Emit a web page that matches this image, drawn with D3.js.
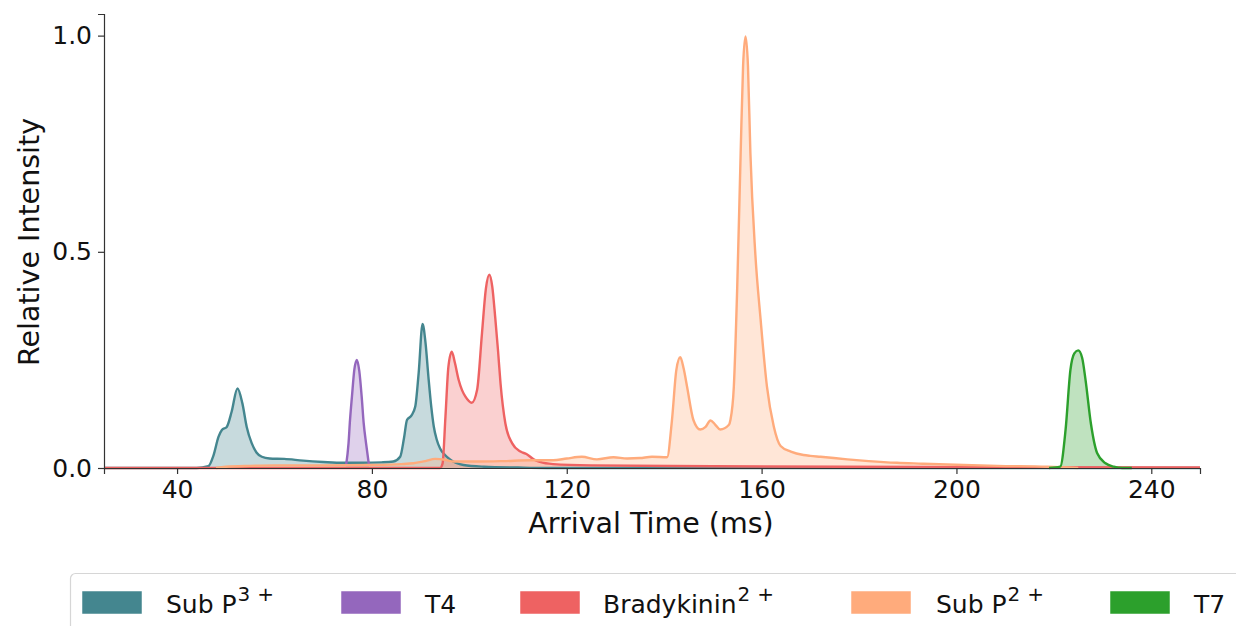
<!DOCTYPE html>
<html>
<head>
<meta charset="utf-8">
<script src="https://cdn.jsdelivr.net/npm/d3@7"></script>
<style>
  body { margin: 0; background: #fff; }
  svg { display: block; font-family: "DejaVu Sans", sans-serif; }
</style>
</head>
<body>
<svg id="chart" width="1236" height="626"></svg>
<script>
// ---- Data (arrival time in ms, relative intensity) ----
const seriesNames = ["Sub P3+", "T4", "Bradykinin2+", "Sub P2+", "T7"];
const seriesColors = ["#44868f", "#9467bd", "#ee6262", "#ffab7c", "#2ca02c"];

const subP3Time = [25, 44, 46.4, 47.5, 48.5, 49.2, 50.2, 51.2, 52.4, 53.4, 54.3, 55.3, 56.3, 57.4, 59, 62, 65.9, 70, 74.1, 78, 82, 84.4, 85.8, 86.6, 87.2, 88.1, 88.9, 89.6, 90.4, 91.0, 91.6, 92.2, 92.7, 93.3, 94.0, 95.0, 96.1, 98.8, 103, 110, 116, 250];
const subP3Vals = [0, 0, 0.004, 0.03, 0.072, 0.088, 0.095, 0.13, 0.184, 0.15, 0.095, 0.058, 0.036, 0.026, 0.022, 0.021, 0.017, 0.014, 0.012, 0.012, 0.013, 0.015, 0.026, 0.07, 0.111, 0.121, 0.142, 0.22, 0.333, 0.29, 0.211, 0.14, 0.096, 0.066, 0.045, 0.03, 0.019, 0.007, 0.003, 0.001, 0, 0];

const t4Time = [74.7, 75.2, 75.5, 75.9, 76.4, 76.9, 77.4, 77.9, 78.3, 78.8, 79.4];
const t4Vals = [0.006, 0.057, 0.11, 0.165, 0.228, 0.25, 0.225, 0.165, 0.105, 0.057, 0.006];

const bradyTime = [25, 60, 94.0, 94.5, 95.1, 95.7, 96.4, 97.0, 97.8, 98.5, 99.2, 100.5, 101.6, 102.6, 103.4, 104.1, 104.7, 105.3, 105.9, 106.4, 107.4, 108.8, 110.5, 111.8, 113.2, 114.5, 117.2, 125, 150, 200, 250];
const bradyVals = [0, 0, 0, 0.01, 0.119, 0.234, 0.269, 0.245, 0.204, 0.18, 0.165, 0.151, 0.181, 0.312, 0.415, 0.447, 0.42, 0.35, 0.27, 0.196, 0.103, 0.057, 0.038, 0.032, 0.02, 0.014, 0.009, 0.006, 0.004, 0.002, 0.001];

const subP2Time = [48, 50, 55, 60, 70, 80, 86, 88.5, 91, 93, 95, 96.7, 99, 102.2, 107, 112.5, 117.2, 120, 123.1, 126.2, 129.6, 132.4, 135, 137.5, 140.6, 141.6, 142.5, 143.3, 144.0, 144.7, 146.0, 147.4, 148.5, 149.5, 150.5, 151.5, 153.3, 153.6, 154.3, 155.0, 155.7, 156.2, 156.7, 157.2, 157.7, 158.7, 159.8, 161.1, 162.5, 163.9, 166.0, 168.6, 170, 172.1, 177.6, 182, 187.8, 193, 198.1, 208.4, 218.7, 225];
const subP2Vals = [0, 0.003, 0.005, 0.006, 0.006, 0.007, 0.009, 0.011, 0.016, 0.021, 0.019, 0.015, 0.015, 0.015, 0.016, 0.018, 0.018, 0.022, 0.026, 0.02, 0.025, 0.022, 0.023, 0.026, 0.025, 0.111, 0.227, 0.256, 0.23, 0.188, 0.111, 0.089, 0.095, 0.11, 0.1, 0.089, 0.1, 0.111, 0.188, 0.42, 0.728, 0.93, 0.998, 0.93, 0.728, 0.497, 0.343, 0.188, 0.096, 0.051, 0.038, 0.03, 0.028, 0.026, 0.02, 0.016, 0.012, 0.01, 0.008, 0.005, 0.003, 0];

const t7Time = [219, 221.3, 222.4, 223.4, 224.2, 225.0, 225.8, 226.5, 227.6, 228.9, 230.6, 232.3, 234, 236];
const t7Vals = [0, 0.003, 0.088, 0.227, 0.265, 0.272, 0.255, 0.204, 0.103, 0.034, 0.011, 0.003, 0, 0];

const xTicks = [40, 80, 120, 160, 200, 240];
const yTicks = [0.0, 0.5, 1.0];

// ---- Build series ----
const raw = [
  [subP3Time, subP3Vals], [t4Time, t4Vals], [bradyTime, bradyVals],
  [subP2Time, subP2Vals], [t7Time, t7Vals]
];
const series = raw.map((r, i) => ({
  name: seriesNames[i], color: seriesColors[i],
  pts: r[0].map((t, j) => ({ t: t, v: r[1][j] }))
}));

// ---- Layout ----
const svg = d3.select("#chart");
const m = { left: 104, top: 14, right: 36, bottom: 158 };
const W = 1236 - m.left - m.right, H = 626 - m.top - m.bottom;
const g = svg.append("g").attr("transform", `translate(${m.left},${m.top})`);

const x = d3.scaleLinear().domain([25, 250]).range([0, W]);
const y = d3.scaleLinear().domain([0, 1.05]).range([H, 0]);

const area = d3.area().x(d => x(d.t)).y0(y(0)).y1(d => y(d.v)).curve(d3.curveMonotoneX);
const line = d3.line().x(d => x(d.t)).y(d => y(d.v)).curve(d3.curveMonotoneX);

const drawOrder = [0, 1, 2, 3, 4];
drawOrder.forEach(i => {
  const s = series[i];
  g.append("path").datum(s.pts).attr("d", area)
    .attr("fill", s.color).attr("fill-opacity", 0.3).attr("stroke", "none");
});
drawOrder.forEach(i => {
  const s = series[i];
  g.append("path").datum(s.pts).attr("d", line)
    .attr("fill", "none").attr("stroke", s.color).attr("stroke-width", 2.4)
    .attr("stroke-linejoin", "round");
});

// ---- Axes ----
const xAxis = g.append("g").attr("transform", `translate(0,${H})`)
  .call(d3.axisBottom(x).tickValues(xTicks).tickFormat(d3.format("d")).tickSize(6).tickPadding(6));
const yAxis = g.append("g")
  .call(d3.axisLeft(y).tickValues(yTicks).tickFormat(d3.format(".1f")).tickSize(6).tickPadding(6));
[xAxis, yAxis].forEach(a => {
  a.selectAll("path.domain").attr("stroke", "#333").attr("stroke-width", 1.2);
  a.selectAll(".tick line").attr("stroke", "#333").attr("stroke-width", 1.2);
  a.selectAll(".tick text").attr("font-size", 25).attr("fill", "#111")
    .attr("font-family", "DejaVu Sans, sans-serif");
});

// Axis labels
svg.append("text").attr("x", 651).attr("y", 533)
  .attr("text-anchor", "middle").attr("font-size", 28.5).attr("fill", "#111")
  .text("Arrival Time (ms)");
svg.append("text").attr("transform", `translate(39,242) rotate(-90)`)
  .attr("text-anchor", "middle").attr("font-size", 28.5).attr("fill", "#111")
  .text("Relative Intensity");

// ---- Legend ----
const lg = svg.append("g");
lg.append("rect").attr("x", 70.5).attr("y", 573.5).attr("width", 1200).attr("height", 80)
  .attr("rx", 5).attr("fill", "#fff").attr("stroke", "#d6d6d6").attr("stroke-width", 1.2);
const legendX = [82, 341, 520, 851, 1110];
const legendTextX = [166, 425, 603, 936, 1194];
const legendLabels = [["Sub P", "3"], ["T4", null], ["Bradykinin", "2"], ["Sub P", "2"], ["T7", null]];
series.forEach((s, i) => {
  lg.append("rect").attr("x", legendX[i]).attr("y", 591).attr("width", 60).attr("height", 23)
    .attr("fill", s.color).attr("stroke", "#fff").attr("stroke-width", 0.5);
  const t = lg.append("text").attr("x", legendTextX[i]).attr("y", 613)
    .attr("font-size", 25).attr("fill", "#111");
  t.append("tspan").text(legendLabels[i][0]);
  if (legendLabels[i][1]) {
    t.append("tspan").attr("dy", -12).attr("font-size", 20).attr("dx", 1).text(legendLabels[i][1]);
    t.append("tspan").attr("font-size", 20).attr("dx", 7).text("+");
  }
});
</script>
</body>
</html>
